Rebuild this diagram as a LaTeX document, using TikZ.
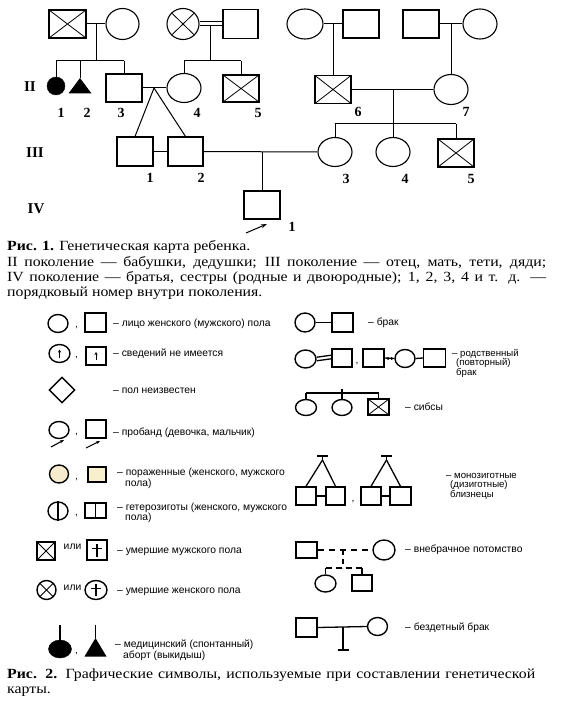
\documentclass[tikz,border=0pt]{standalone}
\usepackage{fontspec}
\setmainfont{Liberation Serif}
\newfontfamily\lab{Liberation Sans}
\newfontfamily\capfont[FakeStretch=1.13]{Liberation Serif}
\usetikzlibrary{shapes.geometric,arrows.meta}
\begin{document}
\begin{tikzpicture}[x=1pt,y=-1pt,
  ln/.style={line width=1pt},
  sq/.style={draw,rectangle,inner sep=0pt,minimum width=36pt,minimum height=28pt,line width=1.1pt},
  ci/.style={draw,ellipse,inner sep=0pt,minimum width=34pt,minimum height=30pt,line width=1.1pt},
  cross/.style={path picture={\draw[line width=0.8pt] (path picture bounding box.north west) -- (path picture bounding box.south east) (path picture bounding box.north east) -- (path picture bounding box.south west);}},
  lsq/.style={draw,rectangle,inner sep=0pt,minimum width=21pt,minimum height=19pt,line width=1.4pt},
  lci/.style={draw,ellipse,inner sep=0pt,minimum width=20pt,minimum height=18pt,line width=1.4pt},
  lln/.style={line width=1.3pt},
  num/.style={font=\bfseries\fontsize{14}{14}\selectfont,inner sep=0pt},
  gen/.style={font=\bfseries\fontsize{15}{15}\selectfont,inner sep=0pt},
  lt/.style={font=\lab\fontsize{10.3}{10}\selectfont,anchor=base west,inner sep=0pt},
  lts/.style={font=\lab\fontsize{9.6}{9}\selectfont,anchor=base west,inner sep=0pt},
  captxt/.style={font=\capfont\fontsize{14}{15}\selectfont,anchor=base west,inner sep=0pt}]
\path[fill=white] (0,0) rectangle (560,722);
\useasboundingbox (0,0) rectangle (560,722);

% ---------- Generation I ----------
\node[sq,cross,minimum width=37pt] (a1) at (67.5,24) {};
\node[ci,minimum width=33pt,minimum height=31pt] (a2) at (122.5,24) {};
\node[ci,cross,minimum width=32pt,minimum height=31pt] (a3) at (183,24) {};
\node[sq,minimum width=35pt,minimum height=29pt] (a4) at (240.5,24) {};
\node[ci,minimum width=36pt] (a5) at (305,24) {};
\node[sq] (a6) at (361,24) {};
\node[sq] (a7) at (421,24) {};
\node[ci] (a8) at (480,24) {};

\draw[ln] (a1.east) -- (a2.west);
\coordinate (m1) at (96,24); \coordinate (s1) at (96,61);
\draw[ln] (m1) -- (s1);
\coordinate (s1l) at (56,61); \coordinate (s1m) at (80,61); \coordinate (s1r) at (124,61);
\draw[ln] (s1l) -- (s1r);

\draw[ln] ([yshift=2pt]a3.east) -- ([yshift=2pt]a4.west);
\draw[ln] ([yshift=-1.5pt]a3.east) -- ([yshift=-1.5pt]a4.west);
\coordinate (m2) at (210,25.5); \coordinate (s2) at (210,61);
\draw[ln] (m2) -- (s2);
\coordinate (s2l) at (184,61); \coordinate (s2r) at (241,61);
\draw[ln] (s2l) -- (s2r);

\draw[ln] (a5.east) -- (a6.west);
\coordinate (m3) at (333,24);
\draw[ln] (a7.east) -- (a8.west);
\coordinate (m4) at (451,24);

% ---------- Generation II ----------
\node[draw,fill,ellipse,inner sep=0pt,minimum width=18pt,minimum height=18pt] (b1) at (56,86) {};
\coordinate (b2) at (80,78);
\fill (b2) -- (91.5,93.5) -- (68.5,93.5) -- cycle;
\node[sq] (b3) at (124,88) {};
\node[ci,minimum height=29pt] (b4) at (184,88) {};
\node[sq,cross,minimum height=27pt] (b5) at (241,88.5) {};
\node[sq,cross] (b6) at (333,89.5) {};
\node[ci] (b7) at (451,89.5) {};

\draw[ln] (s1l) -- (b1.north);
\draw[ln] (s1m) -- (b2);
\draw[ln] (s1r) -- (b3.north);
\draw[ln] (s2l) -- (b4.north);
\draw[ln] (s2r) -- (b5.north);
\draw[ln] (m3) -- (b6.north);
\draw[ln] (m4) -- (b7.north);

\draw[ln] (b3.east) -- (b4.west);
\coordinate (tw) at (154,88);
\draw[ln] (b6.east) -- (b7.west);
\coordinate (m5) at (393,89.5); \coordinate (s3) at (393,124);
\draw[ln] (m5) -- (s3);

% ---------- Generation III ----------
\node[sq,minimum height=29pt] (c1) at (135,151.5) {};
\node[sq,minimum width=35pt,minimum height=29pt] (c2) at (185.5,151.5) {};
\node[ci,minimum height=29pt] (c3) at (335,152) {};
\node[ci,minimum height=29pt] (c4) at (393,152) {};
\node[sq,cross] (c5) at (456,153) {};

\draw[ln] (tw) -- (c1.north);
\draw[ln] (tw) -- (c2.north);
\draw[ln] (c1.east) -- (c2.west);
\draw[ln] (c2.east) -- (c3.west);
\coordinate (s3l) at (335,124); \coordinate (s3r) at (456,124);
\draw[ln] (s3l) -- (s3r);
\draw[ln] (s3l) -- (c3.north);
\draw[ln] (s3) -- (c4.north);
\draw[ln] (s3r) -- (c5.north);
\coordinate (m6) at (262,152);

% ---------- Generation IV ----------
\node[sq] (d1) at (262,205) {};
\draw[ln] (m6) -- (d1.north);
\coordinate (ar1) at (246,233); \coordinate (ar2) at (267,224);
\draw[line width=1pt,-{Stealth[length=6pt,width=4pt]}] (ar1) -- (ar2);

% ---------- labels ----------
\node[gen] (gII) at (30,87) {II};
\node[gen] (gIII) at (35,153) {III};
\node[gen] (gIV) at (36,209) {IV};
\node[num] (n21) at (61,113) {1};
\node[num] (n22) at (87,113) {2};
\node[num] (n23) at (121,113) {3};
\node[num] (n24) at (197,113) {4};
\node[num] (n25) at (258,113) {5};
\node[num] (n26) at (358,112) {6};
\node[num] (n27) at (466,112) {7};
\node[num] (n31) at (150,178) {1};
\node[num] (n32) at (201,178) {2};
\node[num] (n33) at (346,179) {3};
\node[num] (n34) at (405,179) {4};
\node[num] (n35) at (471,179) {5};
\node[num] (n41) at (292,227) {1};

% ---------- caption 1 ----------
\node[captxt] (cp1) at (7,250) {\textbf{Рис. 1.} Генетическая карта ребенка.};
\node[captxt] (cp2) at (7,266) {\makebox[539pt][s]{II поколение — бабушки, дедушки; III поколение — отец, мать, тети, дяди;}};
\node[captxt] (cp3) at (7,281) {\makebox[539pt][s]{IV поколение — братья, сестры (родные и двоюродные); 1, 2, 3, 4 и т. д. —}};
\node[captxt] (cp4) at (7,296) {порядковый номер внутри поколения.};

% ---------- legend, left column ----------
\node[lci] (L1a) at (58,323.5) {};
\node[lt] (L1c) at (75,327) {,};
\node[lsq] (L1b) at (95.5,322.5) {};
\node[lt] (L1t) at (113,326) {– лицо женского (мужского) пола};

\node[lci,minimum width=21pt] (L2a) at (59.5,353.5) {};
\node[lt] (L2c) at (75,357) {,};
\node[lsq,minimum width=20pt,minimum height=18pt] (L2b) at (96,356) {};
\draw[line width=0.9pt,-{Stealth[length=3pt,width=3pt]}] ([yshift=-4pt]L2a.center) -- ([yshift=4pt]L2a.center);
\draw[line width=0.9pt,-{Stealth[length=3pt,width=3pt]}] ([yshift=-4pt]L2b.center) -- ([yshift=4pt]L2b.center);
\node[lt] (L2t) at (113,356) {– сведений не имеется};

\node[draw,diamond,inner sep=0pt,minimum width=26pt,minimum height=26pt,line width=1.4pt] (L3a) at (62,390) {};
\node[lt] (L3t) at (113,393) {– пол неизвестен};

\node[lci,minimum height=17pt] (L4a) at (59,430) {};
\node[lt] (L4c) at (75,434) {,};
\node[lsq,minimum width=20pt,minimum height=18pt] (L4b) at (96,429) {};
\coordinate (L4p1) at (51,447); \coordinate (L4p2) at (64,440);
\coordinate (L4q1) at (86,448); \coordinate (L4q2) at (100,441);
\draw[line width=1.1pt,-{Stealth[length=4pt,width=3pt]}] (L4p1) -- (L4p2);
\draw[line width=1.1pt,-{Stealth[length=4pt,width=3pt]}] (L4q1) -- (L4q2);
\node[lt] (L4t) at (113,435) {– пробанд (девочка, мальчик)};

\node[lci,minimum width=19pt,fill={rgb,255:red,246;green,236;blue,205}] (L5a) at (59,474) {};
\node[lt] (L5c) at (75,479) {,};
\node[lsq,minimum width=18pt,minimum height=15pt,fill={rgb,255:red,248;green,240;blue,205}] (L5b) at (97,474.5) {};
\node[lt] (L5t) at (117,475) {– пораженные (женского, мужского};
\node[lt] (L5u) at (125,486) {пола)};

\node[lci] (L6a) at (58,511) {};
\node[lt] (L6c) at (75,515) {,};
\node[lsq,minimum height=15pt] (L6b) at (95.5,510.5) {};
\draw[lln] (L6a.north) -- (L6a.south);
\draw[lln] (L6b.north) -- (L6b.south);
\node[lt] (L6t) at (117,510) {– гетерозиготы (женского, мужского};
\node[lt] (L6u) at (125,520.5) {пола)};

\node[lsq,cross,minimum width=18pt,minimum height=18pt] (L7a) at (46,551) {};
\node[lt,anchor=center] (L7o) at (72.5,547) {или};
\node[lsq,minimum width=20pt,minimum height=20pt] (L7b) at (97,550) {};
\draw[lln] ([yshift=6pt]L7b.center) -- ([yshift=-7pt]L7b.center);
\draw[lln] ([xshift=-5pt,yshift=1.5pt]L7b.center) -- ([xshift=5pt,yshift=1.5pt]L7b.center);
\node[lt] (L7t) at (117,553) {– умершие мужского пола};

\node[lci,cross,minimum width=19pt,minimum height=19pt] (L8a) at (46.5,590) {};
\node[lt,anchor=center] (L8o) at (72.5,588) {или};
\node[lci,minimum width=22pt,minimum height=19pt] (L8b) at (96,590) {};
\draw[lln] ([yshift=6pt]L8b.center) -- ([yshift=-6pt]L8b.center);
\draw[lln] ([xshift=-5pt,yshift=1.5pt]L8b.center) -- ([xshift=5pt,yshift=1.5pt]L8b.center);
\node[lt] (L8t) at (117,593) {– умершие женского пола};

\node[draw,fill,ellipse,inner sep=0pt,minimum width=23pt,minimum height=18pt] (L9a) at (60,649) {};
\coordinate (L9s) at (60,625);
\draw[lln] (L9s) -- (L9a.north);
\node[lt] (L9c) at (75,653) {,};
\coordinate (L9b) at (95.5,638); \coordinate (L9u) at (95.5,625);
\fill (L9b) -- (106.5,656.5) -- (84.5,656.5) -- cycle;
\draw[lln] (L9u) -- (L9b);
\node[lt] (L9t) at (115,647.5) {– медицинский (спонтанный)};
\node[lt] (L9v) at (123,658.5) {аборт (выкидыш)};

% ---------- legend, right column ----------
\node[lci,minimum height=19pt] (R1a) at (305,322.5) {};
\node[lsq] (R1b) at (342.5,322.5) {};
\draw[lln] (R1a.east) -- (R1b.west);
\node[lt] (R1t) at (368,325) {– брак};

\node[lci,minimum width=21pt] (R2a) at (305.5,359) {};
\node[lsq,minimum width=20pt,minimum height=18pt] (R2b) at (342,358) {};
\draw[lln] ([yshift=1.8pt]R2a.east) -- ([yshift=2.8pt]R2b.west);
\draw[lln] ([yshift=-1.8pt]R2a.east) -- ([yshift=-0.8pt]R2b.west);
\node[lt] (R2c0) at (355.5,363) {,};
\node[lsq,minimum height=18pt] (R2c) at (373.5,358) {};
\node[lci] (R2d) at (405,358.5) {};
\node[lsq,minimum width=22pt,minimum height=18pt] (R2e) at (434.5,358) {};
\draw[lln] (R2c.east) -- (R2d.west);
\fill (388,358.5) circle (1.5pt);
\fill (391.5,358.5) circle (1.5pt);
\draw[lln] (R2d.east) -- (R2e.west);
\node[lts] (R2t) at (452,356) {– родственный};
\node[lts] (R2u) at (456,365.5) {(повторный)};
\node[lts] (R2v) at (456,375) {брак};

\coordinate (R3l) at (306,393); \coordinate (R3m) at (342,393); \coordinate (R3r) at (378.5,393);
\coordinate (R3k) at (342,388.5);
\node[lci,minimum width=21pt,minimum height=16pt] (R3a) at (306,407.5) {};
\node[lci,minimum height=16pt] (R3b) at (342,407.5) {};
\node[lsq,cross,minimum height=16pt] (R3c) at (378.5,407) {};
\draw[lln] (R3l) -- (R3r);
\draw[lln] (R3k) -- (R3m);
\draw[lln] (R3l) -- (R3a.north);
\draw[lln] (R3m) -- (R3b.north);
\draw[lln] (R3r) -- (R3c.north);
\node[lt] (R3t) at (405,410) {– сибсы};

\node[lsq,minimum width=20pt,minimum height=18pt] (T1) at (306,496) {};
\node[lsq,minimum width=19pt,minimum height=18pt] (T2) at (335.5,496) {};
\node[lt] (Tc) at (351.5,501) {,};
\node[lsq,minimum width=20pt,minimum height=18pt] (T3) at (371,496) {};
\node[lsq,minimum width=21pt,minimum height=18pt] (T4) at (400.5,496) {};
\draw[lln] (T1.east) -- (T2.west);
\draw[lln] (T3.east) -- (T4.west);
\coordinate (Ta1) at (317,456); \coordinate (Ta2) at (328,456);
\coordinate (Tb) at (322.5,456); \coordinate (Tp) at (322.5,460);
\draw[lln] (Ta1) -- (Ta2); \draw[lln] (Tb) -- (Tp);
\draw[lln] (Tp) -- (T1.north); \draw[lln] (Tp) -- (T2.north);
\coordinate (Ua1) at (381,456); \coordinate (Ua2) at (392,456);
\coordinate (Ub) at (386.5,456); \coordinate (Up) at (386.5,460);
\draw[lln] (Ua1) -- (Ua2); \draw[lln] (Ub) -- (Up);
\draw[lln] (Up) -- (T3.north); \draw[lln] (Up) -- (T4.north);
\node[lts] (Tt) at (446,478) {– монозиготные};
\node[lts] (Tu) at (450,487.5) {(дизиготные)};
\node[lts] (Tv) at (450,497) {близнецы};

\node[lsq,minimum height=16pt] (I1) at (306.5,550) {};
\node[lci,minimum width=22pt,minimum height=20pt] (I2) at (384,550) {};
\draw[lln,dash pattern=on 6pt off 5pt] (I1.east) -- (I2.west);
\coordinate (Im) at (343,550); \coordinate (Is) at (343,568);
\draw[lln,dash pattern=on 5pt off 4pt] (Im) -- (Is);
\coordinate (Il) at (325.5,568); \coordinate (Ir) at (362,568);
\draw[lln,dash pattern=on 6pt off 4pt] (Il) -- (Ir);
\node[lci,minimum width=21pt,minimum height=17pt] (I3) at (325.5,583.5) {};
\node[lsq,minimum width=20pt,minimum height=16pt] (I4) at (362,583) {};
\draw[lln] (Il) -- (I3.north);
\draw[lln] (Ir) -- (I4.north);
\node[lt] (It) at (405,552) {– внебрачное потомство};

\node[lsq] (C1) at (306.5,627.5) {};
\node[lci] (C2) at (377.5,626.5) {};
\draw[lln] (C1.east) -- (C2.west);
\coordinate (Cm) at (343,627); \coordinate (Cb) at (343,650);
\coordinate (Cb1) at (337.5,650); \coordinate (Cb2) at (348.5,650);
\draw[lln] (Cm) -- (Cb);
\draw[lln] (Cb1) -- (Cb2);
\node[lt] (Ct) at (405,630) {– бездетный брак};

% ---------- caption 2 ----------
\node[captxt] (cq1) at (7,678) {\makebox[528pt][s]{\textbf{Рис. 2.} Графические символы, используемые при составлении генетической}};
\node[captxt] (cq2) at (7,693) {карты.};
\end{tikzpicture}
\end{document}
